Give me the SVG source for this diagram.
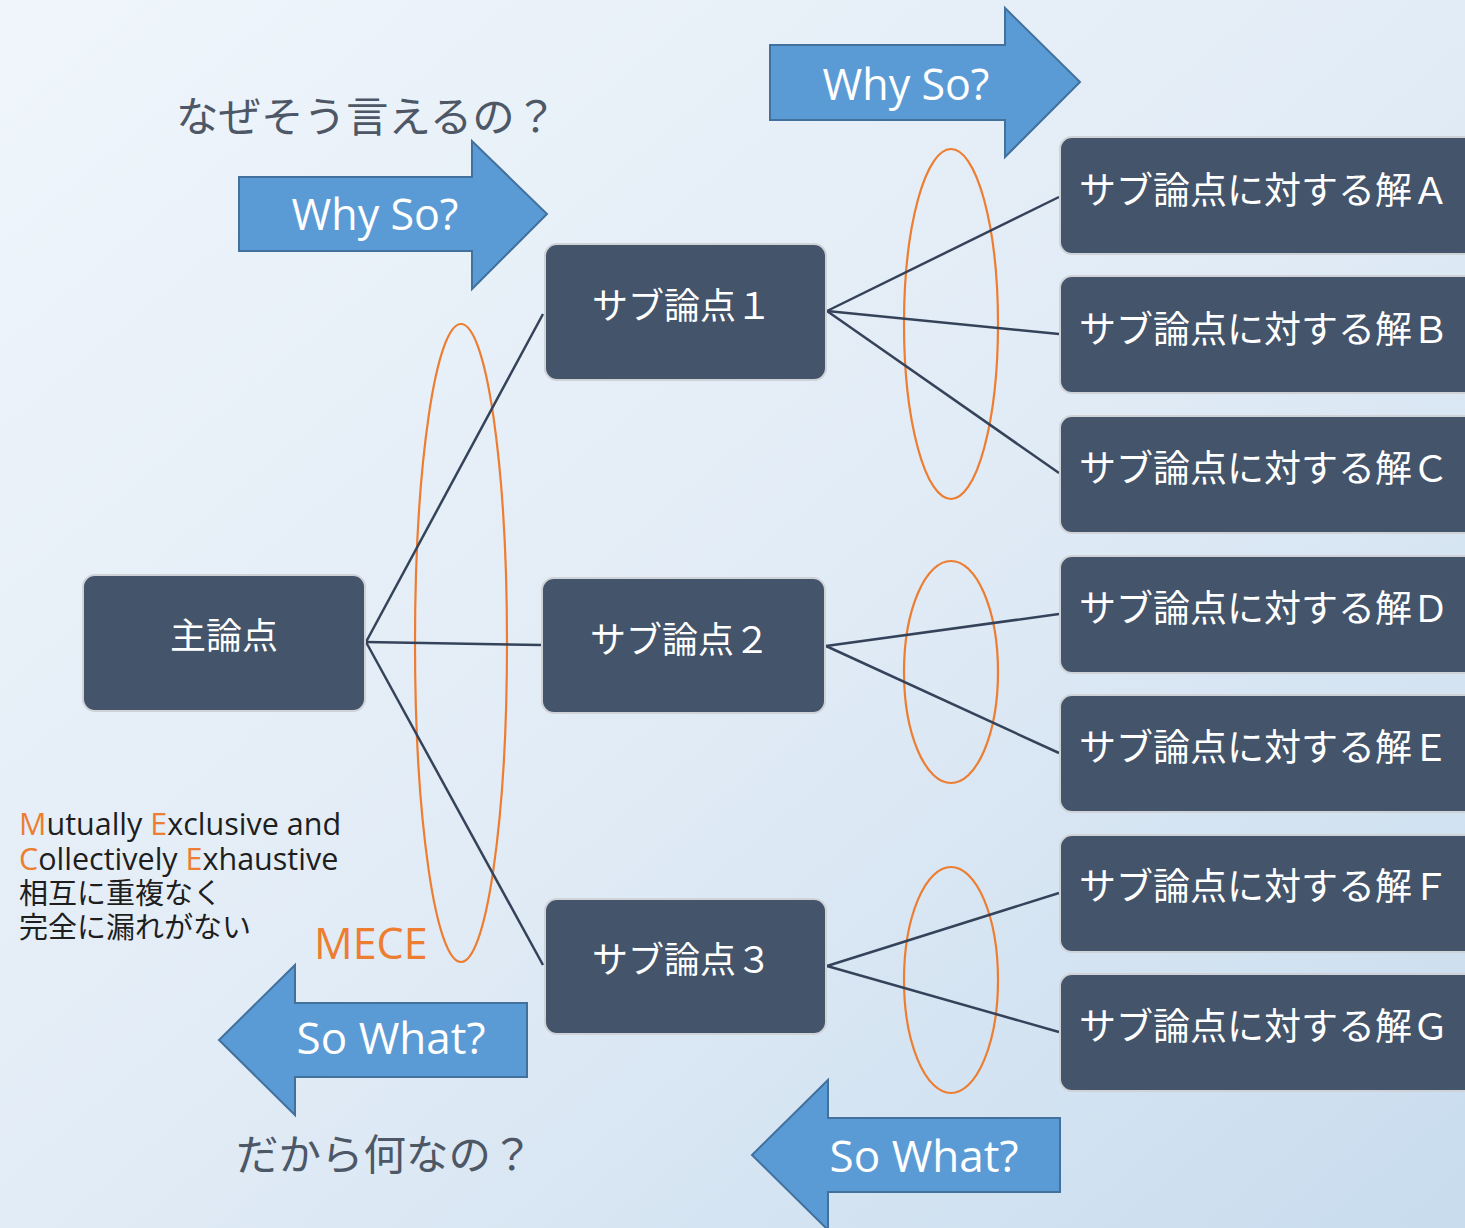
<svg xmlns="http://www.w3.org/2000/svg" width="1465" height="1228" viewBox="0 0 1465 1228">
<defs>
<linearGradient id="bg" x1="0" y1="0" x2="1" y2="1">
<stop offset="0" stop-color="#eff5fb"/>
<stop offset="0.5" stop-color="#e2ecf6"/>
<stop offset="1" stop-color="#c8dcee"/>
</linearGradient>
<style>
.node{fill:#44546a;stroke:#cfd3d8;stroke-width:2}
.nt{fill:#ffffff;font-family:"Noto Sans CJK JP","Noto Sans",sans-serif;font-size:36px}
.st{fill:#ffffff;font-family:"Noto Sans CJK JP","Noto Sans",sans-serif;font-size:37px}
.arrow{fill:#5b9bd5;stroke:#41719c;stroke-width:2}
.at{fill:#ffffff;font-family:"Open Sans","Noto Sans",sans-serif;text-anchor:middle}
.conn{stroke:#35435a;stroke-width:2.5;fill:none}
.ell{fill:none;stroke:#ed7d31;stroke-width:2.2}
.q{fill:#4d5766;font-family:"Noto Sans CJK JP",sans-serif;font-size:42.5px}
.m{fill:#1e1e1e;font-family:"Open Sans","Noto Sans CJK JP",sans-serif;font-size:30.5px}
.mj{font-family:"Noto Sans CJK JP",sans-serif;font-size:29px}
.o{fill:#ed7d31}
</style>
</defs>
<rect x="0" y="0" width="1465" height="1228" fill="url(#bg)"/>

<g id="arrow-whyso-top">
<polygon class="arrow" points="770,45 1005,45 1005,8 1080,82 1005,157 1005,120 770,120"/>
<text class="at" x="906" y="100" font-size="43">Why So?</text>
</g>
<g id="arrow-whyso-left">
<polygon class="arrow" points="239,177 472,177 472,141 547,214 472,289 472,251 239,251"/>
<text class="at" x="375" y="230" font-size="43">Why So?</text>
</g>
<g id="arrow-sowhat-left">
<polygon class="arrow" points="527,1003 295,1003 295,965 219,1040 295,1115 295,1077 527,1077"/>
<text class="at" x="391" y="1054" font-size="44">So What?</text>
</g>
<g id="arrow-sowhat-bottom">
<polygon class="arrow" points="1060,1118 828,1118 828,1080 752,1155 828,1230 828,1192 1060,1192"/>
<text class="at" x="924" y="1172" font-size="44">So What?</text>
</g>

<g id="label-why">
<text class="q" x="176" y="132">なぜそう言えるの？</text>
</g>
<g id="label-sowhat">
<text class="q" x="236" y="1170">だから何なの？</text>
</g>

<g id="mece-ellipses">
<ellipse class="ell" cx="461" cy="643" rx="46" ry="319"/>
<ellipse class="ell" cx="951" cy="324" rx="47" ry="175"/>
<ellipse class="ell" cx="951" cy="672" rx="47" ry="111"/>
<ellipse class="ell" cx="951" cy="980" rx="47" ry="113"/>
</g>

<g id="connectors">
<line class="conn" x1="366" y1="642" x2="543" y2="314"/>
<line class="conn" x1="366" y1="642" x2="541" y2="645"/>
<line class="conn" x1="366" y1="642" x2="543" y2="965"/>
<line class="conn" x1="827" y1="311" x2="1059" y2="197"/>
<line class="conn" x1="827" y1="311" x2="1059" y2="334"/>
<line class="conn" x1="827" y1="311" x2="1059" y2="473"/>
<line class="conn" x1="826" y1="646" x2="1059" y2="614"/>
<line class="conn" x1="826" y1="646" x2="1059" y2="753"/>
<line class="conn" x1="827" y1="966" x2="1059" y2="893"/>
<line class="conn" x1="827" y1="966" x2="1059" y2="1032"/>
</g>

<g id="main">
<rect class="node" x="83" y="575" width="282" height="136" rx="12"/>
<text class="nt" x="224" y="649" text-anchor="middle">主論点</text>
</g>
<g id="sub1">
<rect class="node" x="545" y="244" width="281" height="136" rx="12"/>
<text class="nt" x="682" y="319" text-anchor="middle">サブ論点１</text>
</g>
<g id="sub2">
<rect class="node" x="542" y="578" width="283" height="135" rx="12"/>
<text class="nt" x="680" y="653" text-anchor="middle">サブ論点２</text>
</g>
<g id="sub3">
<rect class="node" x="545" y="899" width="281" height="135" rx="12"/>
<text class="nt" x="682" y="973" text-anchor="middle">サブ論点３</text>
</g>

<g id="solA"><rect class="node" x="1060" y="137" width="430" height="117" rx="12"/><text class="st" x="1079" y="204">サブ論点に対する解Ａ</text></g>
<g id="solB"><rect class="node" x="1060" y="276" width="430" height="117" rx="12"/><text class="st" x="1079" y="343">サブ論点に対する解Ｂ</text></g>
<g id="solC"><rect class="node" x="1060" y="416" width="430" height="117" rx="12"/><text class="st" x="1079" y="482">サブ論点に対する解Ｃ</text></g>
<g id="solD"><rect class="node" x="1060" y="556" width="430" height="117" rx="12"/><text class="st" x="1079" y="622">サブ論点に対する解Ｄ</text></g>
<g id="solE"><rect class="node" x="1060" y="695" width="430" height="117" rx="12"/><text class="st" x="1079" y="761">サブ論点に対する解Ｅ</text></g>
<g id="solF"><rect class="node" x="1060" y="835" width="430" height="117" rx="12"/><text class="st" x="1079" y="900">サブ論点に対する解Ｆ</text></g>
<g id="solG"><rect class="node" x="1060" y="974" width="430" height="117" rx="12"/><text class="st" x="1079" y="1040">サブ論点に対する解Ｇ</text></g>

<g id="mece-text">
<text class="m"><tspan x="19" y="835"><tspan class="o">M</tspan>utually <tspan class="o">E</tspan>xclusive and</tspan><tspan x="19" y="870"><tspan class="o">C</tspan>ollectively <tspan class="o">E</tspan>xhaustive</tspan><tspan class="mj" x="19" y="904">相互に重複なく</tspan><tspan class="mj" x="19" y="938">完全に漏れがない</tspan></text>
<text x="314" y="959" fill="#ed7d31" font-family="'Open Sans','Noto Sans',sans-serif" font-size="43">MECE</text>
</g>
</svg>
